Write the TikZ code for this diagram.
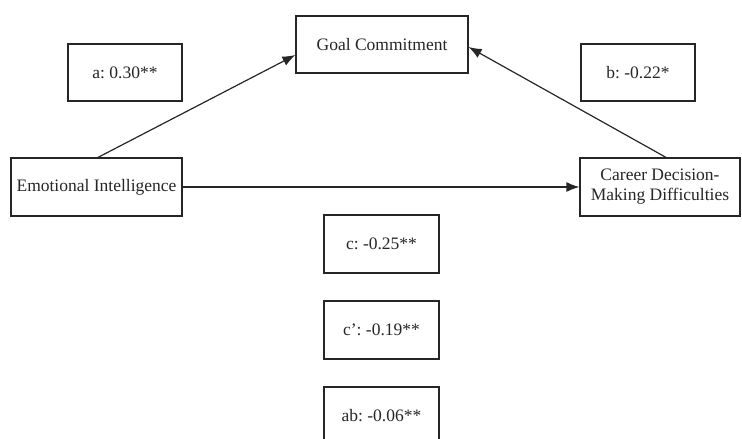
\documentclass[tikz,border=0pt]{standalone}
\usepackage{fontspec}
\setmainfont{Liberation Serif}
\usetikzlibrary{arrows.meta}
\begin{document}
\frenchspacing
\begin{tikzpicture}[x=1pt,y=-1pt,
  box/.style={draw=black!85, line width=1.2pt, inner sep=0pt, align=center,
    font=\fontsize{17.5}{20}\selectfont, text=black!85},
  conn/.style={draw=black!85, line width=1.2pt, -{Latex[length=13pt,width=10pt]}}]
\useasboundingbox (0,0) rectangle (742,439);
\clip (0,0) rectangle (742,439);
\node[box, minimum width=172pt, minimum height=57pt] (goal) at (382,44.5) {Goal Commitment};
\node[box, minimum width=114pt, minimum height=57pt] (a) at (125,72.5) {a: 0.30**};
\node[box, minimum width=114pt, minimum height=57pt] (b) at (638,72.5) {b: -0.22*};
\node[box, minimum width=171pt, minimum height=58pt] (ei) at (96.5,187) {Emotional Intelligence};
\node[box, minimum width=160pt, minimum height=58pt] (cd) at (660,187) {Career Decision-\\Making Difficulties};
\node[box, minimum width=115pt, minimum height=58pt] (c) at (381.5,244) {c: -0.25**};
\node[box, minimum width=115pt, minimum height=58pt] (cp) at (381.5,330) {c': -0.19**};
\node[box, minimum width=115pt, minimum height=58pt] (ab) at (381.5,416) {ab: -0.06**};
\draw[conn] ([xshift=1.5pt]ei.north) -- ([yshift=-10.5pt]goal.west);
\draw[conn] ([xshift=6pt]cd.north) -- ([yshift=-2.5pt]goal.east);
\draw[conn] (ei.east) -- (cd.west);
\end{tikzpicture}
\end{document}
